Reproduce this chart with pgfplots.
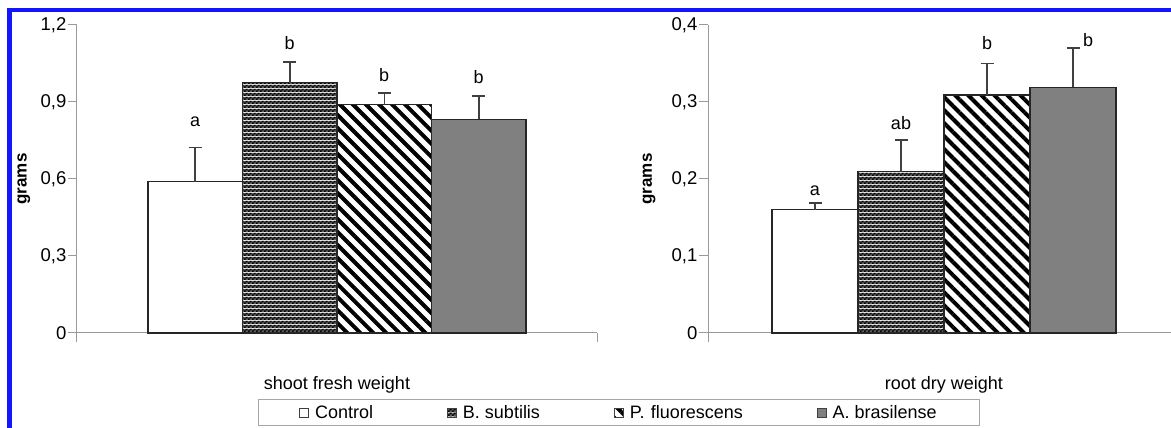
\documentclass[border=0pt]{standalone}
\usepackage{pgfplots}
\pgfplotsset{compat=1.18}
\usepackage{fontspec}
\setmainfont{Liberation Sans}
\usetikzlibrary{patterns,patterns.meta}

\pgfdeclarepattern{
  name=mychecker,
  type=colored,
  bottom left={\pgfpoint{0pt}{0pt}},
  top right={\pgfpoint{4pt}{4pt}},
  tile size={\pgfpoint{4pt}{4pt}},
  code={
    \pgfsetfillcolor{black!62}
    \pgfpathrectangle{\pgfpoint{0pt}{0pt}}{\pgfpoint{4pt}{4pt}}\pgfusepath{fill}
    \pgfsetfillcolor{black}
    \pgfpathrectangle{\pgfpoint{0pt}{0pt}}{\pgfpoint{2pt}{2pt}}
    \pgfpathrectangle{\pgfpoint{2pt}{2pt}}{\pgfpoint{2pt}{2pt}}
    \pgfusepath{fill}
  }
}

\newcommand{\fs}{\fontsize{18}{20}\selectfont}
\newcommand{\ft}{\fontsize{18.5}{20}\selectfont}

\pgfplotsset{
  panel/.style={
    scale only axis,
    height=308pt,
    axis x line*=bottom,
    axis y line*=left,
    axis line style={draw=black!40, line width=1pt},
    tick style={draw=black!40, line width=1pt},
    tick align=outside,
    major tick length=9pt,
    xmin=-1, xmax=1, ymin=0,
    xtick={-1,1}, xticklabels={},
    yticklabel style={font=\ft, inner sep=1.5pt},
    clip=false,
    ybar,
    error bars/y dir=plus,
    error bars/y explicit,
    error bars/error bar style={line width=1.5pt, black!75},
    error bars/error mark options={rotate=90, line width=1.5pt, mark size=6.5pt, black!75},
  },
  sctl/.style={draw=black!85, line width=1.3pt, fill=white},
  sbs/.style={draw=black!85, line width=1.3pt, pattern=mychecker},
  spf/.style={draw=black!85, line width=1.3pt, fill=white, postaction={pattern={Lines[angle=-45,distance=9.2pt,line width=4pt]}}},
  sab/.style={draw=black!85, line width=1.3pt, fill=black!50},
}

\begin{document}
\begin{tikzpicture}
\useasboundingbox (0pt,0pt) rectangle (1171pt,428pt);

% ---------- left panel ----------
\begin{axis}[panel,
  at={(77pt,95pt)}, anchor=south west,
  width=520pt,
  ymax=1.2,
  ytick={0,0.3,0.6,0.9,1.2},
  yticklabels={0,{0,3},{0,6},{0,9},{1,2}},
  ylabel={grams},
  ylabel style={at={(-0.102,0.5)}, rotate=0, anchor=center, font=\fontsize{17}{18}\selectfont\bfseries},
  xlabel={shoot fresh weight},
  xlabel style={at={(0.5,-0.169)}, anchor=center, font=\fs},
  bar width=94.5pt,
  legend columns=4,
  legend cell align=left,
  legend image code/.code={\draw[#1,line width=0.8pt,draw=black!75] (0pt,-4.5pt) rectangle (9pt,4.5pt);},
  legend style={at={(0.348,-0.214)}, anchor=north west,
    draw=black!35, line width=0.8pt, font=\fs,
    inner xsep=41pt, inner ysep=4pt,
    /tikz/every odd column/.append style={column sep=4pt},
    /tikz/every even column/.append style={column sep=72pt}},
]
\addplot[sctl, bar shift=-141.75pt] coordinates {(0,0.59) +- (0,0.133)};
\addplot[sbs,  bar shift=-47.25pt]  coordinates {(0,0.975) +- (0,0.080)};
\addplot[spf,  bar shift=47.25pt]   coordinates {(0,0.89) +- (0,0.045)};
\addplot[sab,  bar shift=141.75pt]  coordinates {(0,0.833) +- (0,0.090)};
\legend{Control,B. subtilis,P.\hspace{0.35em}fluorescens,A. brasilense}
\node[font=\fs, xshift=-141.75pt] at (axis cs:0,0.822) {a};
\node[font=\fs, xshift=-47.25pt]  at (axis cs:0,1.130) {b};
\node[font=\fs, xshift=47.25pt]   at (axis cs:0,1.005) {b};
\node[font=\fs, xshift=141.75pt]  at (axis cs:0,0.997) {b};
\end{axis}

% ---------- right panel ----------
\begin{axis}[panel,
  at={(708pt,95pt)}, anchor=south west,
  width=472pt,
  ymax=0.4,
  ytick={0,0.1,0.2,0.3,0.4},
  yticklabels={0,{0,1},{0,2},{0,3},{0,4}},
  ylabel={grams},
  ylabel style={at={(-0.125,0.5)}, rotate=0, anchor=center, font=\fontsize{17}{18}\selectfont\bfseries},
  xlabel={root dry weight},
  xlabel style={at={(0.5,-0.169)}, anchor=center, font=\fs},
  bar width=86pt,
]
\addplot[sctl, bar shift=-129pt] coordinates {(0,0.160) +- (0,0.009)};
\addplot[sbs,  bar shift=-43pt]  coordinates {(0,0.2095) +- (0,0.041)};
\addplot[spf,  bar shift=43pt]   coordinates {(0,0.309) +- (0,0.041)};
\addplot[sab,  bar shift=129pt]  coordinates {(0,0.319) +- (0,0.051)};
\node[font=\fs, xshift=-129pt] at (axis cs:0,0.185) {a};
\node[font=\fs, xshift=-43pt]  at (axis cs:0,0.273) {ab};
\node[font=\fs, xshift=43pt]   at (axis cs:0,0.376) {b};
\node[font=\fs, xshift=144pt]  at (axis cs:0,0.380) {b};
\end{axis}

\draw[draw={rgb,255:red,20;green,20;blue,255}, line width=4.5pt] (9.5pt,-5pt) -- (9.5pt,418pt) -- (1180pt,418pt);
\end{tikzpicture}
\end{document}
